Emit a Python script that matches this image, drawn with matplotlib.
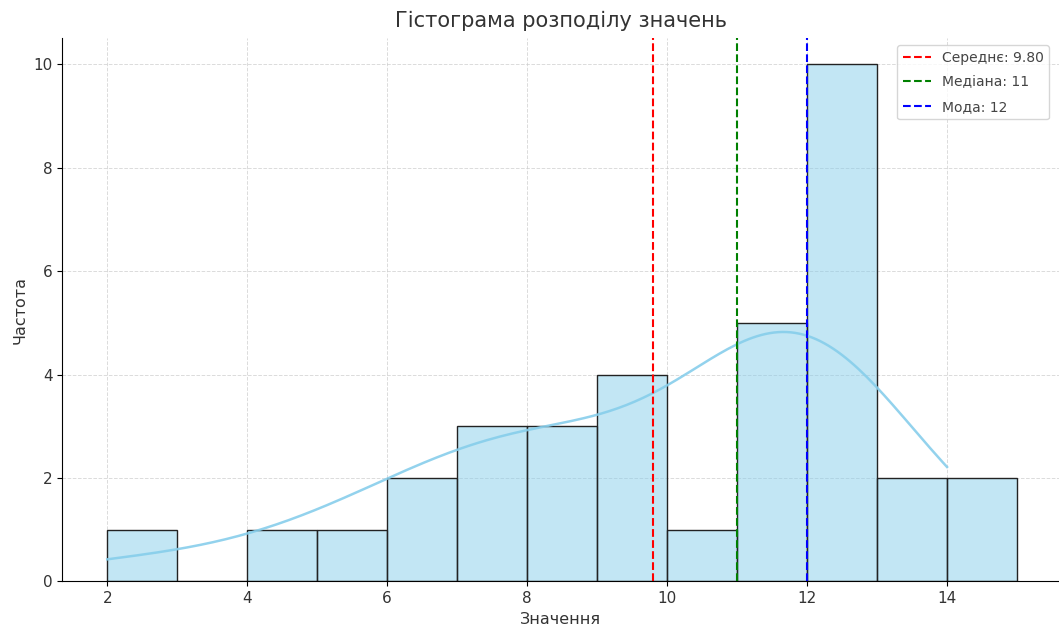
import numpy as np
import matplotlib
matplotlib.use('Agg')
import matplotlib.pyplot as plt
import seaborn as sns

# raw observations read back from the bar heights
values = [2, 4, 5, 6, 6, 7, 7, 7, 8, 8, 8, 9, 9, 9, 9, 10,
          11, 11, 11, 11, 11,
          12, 12, 12, 12, 12, 12, 12, 12, 12, 12,
          13, 13, 14, 14]
bin_edges = list(range(2, 16))

mean_val = np.mean(values)
median_val = np.median(values)
mode_val = 12

fig = plt.figure(figsize=(10.59, 6.3), dpi=100)
ax = fig.add_axes([0.059, 0.077, 0.941, 0.862])

sns.histplot(values, bins=bin_edges, kde=True, color='skyblue', edgecolor='#222222',
             linewidth=1.0, alpha=0.5, ax=ax, line_kws={'linewidth': 1.8})
ax.lines[0].set_alpha(0.9)

ax.axvline(mean_val, color='red', linestyle='--', linewidth=1.5, label=f'Середнє: {mean_val:.2f}')
ax.axvline(median_val, color='green', linestyle='--', linewidth=1.5, label=f'Медіана: {median_val:.0f}')
ax.axvline(mode_val, color='blue', linestyle='--', linewidth=1.5, label=f'Мода: {mode_val}')

ax.set_title('Гістограма розподілу значень', fontsize=15, color='#333333', pad=8)
ax.set_xlabel('Значення', fontsize=11.5, color='#333333')
ax.set_ylabel('Частота', fontsize=11.5, color='#333333')
ax.tick_params(labelsize=11, labelcolor='#333333')
ax.set_xlim(1.36, 15.6)
ax.set_ylim(0, 10.5)
ax.grid(True, linestyle='--', color='#cccccc', alpha=0.7, linewidth=0.7)
ax.set_axisbelow(True)
ax.spines['top'].set_visible(False)
ax.spines['right'].set_visible(False)
leg = ax.legend(loc='upper right', fontsize=10, labelspacing=0.75,
                bbox_to_anchor=(0.997, 1.0))
for t in leg.get_texts():
    t.set_color('#444444')

plt.savefig('out.png', dpi=100)
